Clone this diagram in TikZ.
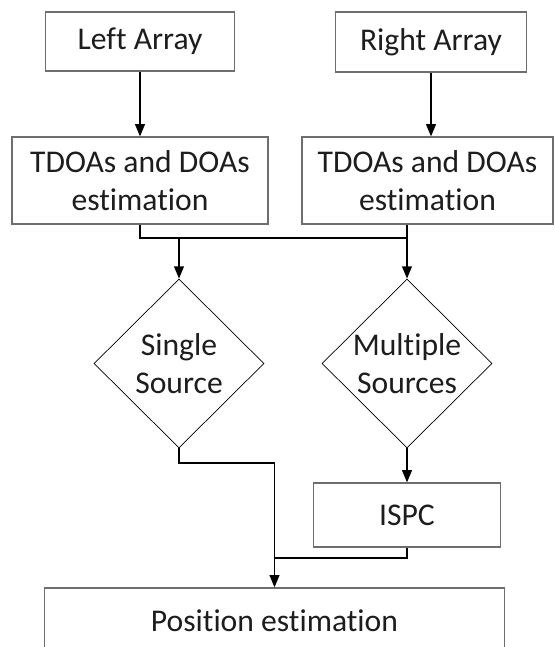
\documentclass[tikz,border=0pt]{standalone}
\usepackage{fontspec}
\setmainfont{Carlito}[Ligatures=NoCommon]
\usepackage{tikz}
\usetikzlibrary{positioning,arrows.meta,shapes.geometric}
\definecolor{cEdge}{RGB}{110,110,110}
\definecolor{cText}{RGB}{30,28,28}

\begin{document}
\begin{tikzpicture}[x=0.02cm,y=-0.02cm,
    every node/.style={font=\fontsize{18}{22}\selectfont,text=cText,align=center},
    box/.style={draw=cEdge,line width=0.6pt,inner sep=0pt},
    decision/.style={diamond,draw=black,line width=0.4pt,inner sep=-2pt,aspect=1,
      minimum width=3.4cm,minimum height=3.38cm},
    wire/.style={draw=black,line width=1.1pt},
    flow/.style={wire,-{Triangle[length=7pt,width=5.5pt]}}]
  \clip (0,0) rectangle (555,647);
  % the two microphone arrays
  \node[box,minimum width=3.78cm,minimum height=1.18cm] (leftArr) at (140,41.5) {Left Array};
  \node[box,minimum width=3.82cm,minimum height=1.2cm] (rightArr) at (431,42) {Right Array};
  \node[box,minimum width=5.12cm,minimum height=1.74cm] (tdoaL) at (140,180.5) {TDOAs and DOAs\\estimation};
  \node[box,minimum width=5.02cm,minimum height=1.74cm] (tdoaR) at (427.5,180.5) {TDOAs and DOAs\\estimation};
  % source count decision
  \node[decision] (single) at (179,363.5) {Single\\Source};
  \node[decision] (multi) at (407,363.5) {Multiple\\Sources};
  \node[box,minimum width=3.74cm,minimum height=1.28cm] (ispc) at (407,515) {ISPC};
  \node[box,minimum width=9.22cm,minimum height=1.32cm] (pos) at (274.5,621) {Position estimation};
  \coordinate (busL) at (140,238);
  \coordinate (busR) at (407,238);
  \draw[flow] (leftArr) -- (tdoaL);
  \draw[flow] (rightArr.south) -- (rightArr.south |- tdoaR.north);
  \draw[wire] (tdoaL.south) -- (busL) -- (busR) -- (busR |- tdoaR.south);
  \draw[flow] (busL -| single.north) -- (single.north);
  \draw[flow] (busR) -- (multi.north);
  \draw[flow] (multi.south) -- (ispc.north);
  \draw[flow] (single.south) -- ++(0,15) -| (pos.north);
  \draw[wire] (ispc.south) |- (pos.north |- 0,558);
\end{tikzpicture}
\end{document}
